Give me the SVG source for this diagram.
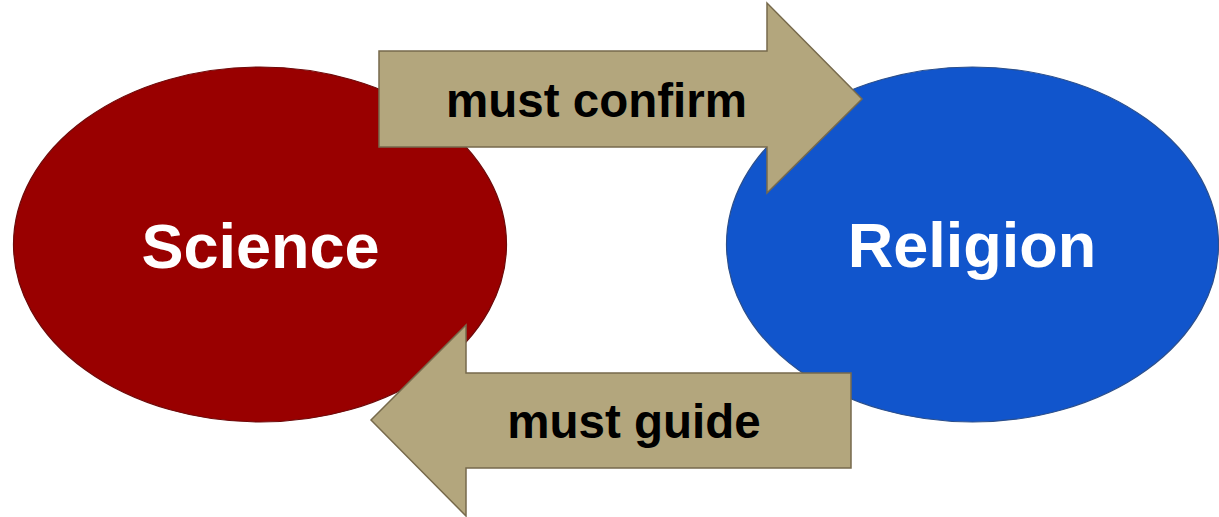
<svg xmlns="http://www.w3.org/2000/svg" width="1219" height="517" viewBox="0 0 1219 517">
<style>
.arrow{fill:#b3a67d;stroke:#776a4c;stroke-width:1.5;stroke-linejoin:miter}
.lbl{font-family:"Liberation Sans",Arial,sans-serif;font-weight:bold;text-anchor:middle}
.alab{font-size:47.5px;fill:#000}
.nlab{font-size:63px;fill:#fff}
</style>
<rect width="1219" height="517" fill="#fff"/>
<g id="science">
<ellipse cx="260" cy="244.5" rx="246.5" ry="177.5" fill="#990000" stroke="#6e0a0a" stroke-width="1.2"/>
<text class="lbl nlab" x="260.5" y="268">Science</text>
</g>
<g id="religion">
<ellipse cx="972.5" cy="244.5" rx="246" ry="177.5" fill="#1155cc" stroke="#2b4f8c" stroke-width="1.2"/>
<text class="lbl nlab" x="972" y="267">Religion</text>
</g>
<g id="connectors">
<g id="must-confirm">
<polygon class="arrow" points="379,51 767,51 767,3 862,99 767,193 767,147 379,147"/>
<text class="lbl alab" x="596.5" y="117">must confirm</text>
</g>
<g id="must-guide">
<polygon class="arrow" points="851,373 466,373 466,325 371,420 466,516 466,468 851,468"/>
<text class="lbl alab" x="634" y="438">must guide</text>
</g>
</g>
</svg>
